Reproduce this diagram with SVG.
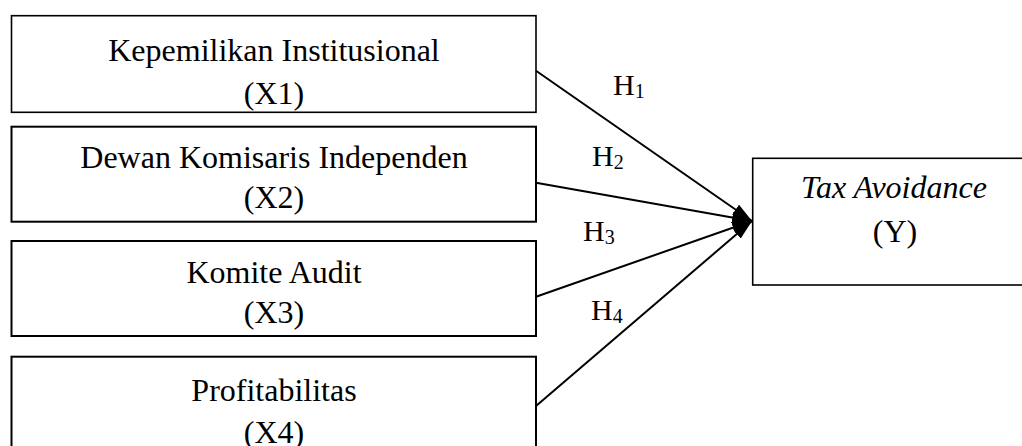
<svg xmlns="http://www.w3.org/2000/svg" width="1022" height="446" viewBox="0 0 1022 446">
<style>
.box{fill:#fff;stroke:#000;stroke-width:2}
.lbl{font-family:"Liberation Serif","Times New Roman",serif;font-size:32px;fill:#000;text-anchor:middle}
.h{font-family:"Liberation Serif","Times New Roman",serif;font-size:30px;fill:#000}
.sub{font-size:20px}
.conn{stroke:#000;stroke-width:2;fill:none;marker-end:url(#arr)}
</style>
<defs>
<marker id="arr" viewBox="0 0 20 12" markerWidth="20" markerHeight="12" refX="20" refY="6" orient="auto" markerUnits="userSpaceOnUse">
<path d="M0,0 L20,6 L0,12 z" fill="#000"/>
</marker>
</defs>
<rect width="1022" height="446" fill="#fff"/>
<g id="x1">
<rect class="box" x="11.5" y="15.7" width="524.5" height="96.6" style="stroke-width:1.6"/>
<text class="lbl" x="274" y="61">Kepemilikan Institusional</text>
<text class="lbl" x="274" y="104">(X1)</text>
</g>
<g id="x2">
<rect class="box" x="11.5" y="126.7" width="524.5" height="95"/>
<text class="lbl" x="274" y="168">Dewan Komisaris Independen</text>
<text class="lbl" x="274" y="208">(X2)</text>
</g>
<g id="x3">
<rect class="box" x="11.5" y="241" width="524.5" height="95"/>
<text class="lbl" x="274" y="283">Komite Audit</text>
<text class="lbl" x="274" y="323">(X3)</text>
</g>
<g id="x4">
<rect class="box" x="11.5" y="356.7" width="524.5" height="100"/>
<text class="lbl" x="274" y="401">Profitabilitas</text>
<text class="lbl" x="274" y="443">(X4)</text>
</g>
<g id="y">
<rect class="box" x="752.7" y="158.3" width="290" height="126.7" style="stroke-width:1.6"/>
<text class="lbl" x="894" y="198" font-style="italic">Tax Avoidance</text>
<text class="lbl" x="895" y="242">(Y)</text>
</g>
<g id="connectors">
<path class="conn" d="M536,70.7 L752,221"/>
<path class="conn" d="M536,182.7 L752,221"/>
<path class="conn" d="M536,296.7 L752,221"/>
<path class="conn" d="M536,406 L752,221"/>
<text class="h" x="613" y="95">H<tspan class="sub" dy="3">1</tspan></text>
<text class="h" x="592" y="166">H<tspan class="sub" dy="3">2</tspan></text>
<text class="h" x="583" y="241">H<tspan class="sub" dy="3">3</tspan></text>
<text class="h" x="591" y="320">H<tspan class="sub" dy="3">4</tspan></text>
</g>
</svg>
